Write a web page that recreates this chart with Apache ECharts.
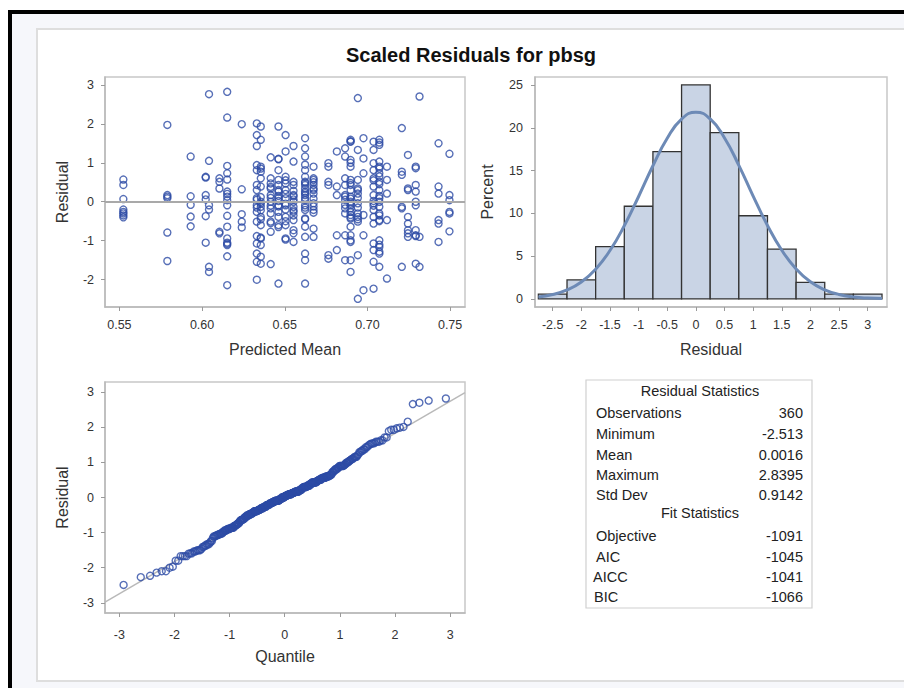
<!DOCTYPE html>
<html>
<head>
<meta charset="utf-8">
<script src="https://cdn.jsdelivr.net/npm/echarts@6/dist/echarts.min.js"></script>
<style>
html,body{margin:0;padding:0;width:904px;height:688px;overflow:hidden;background:#fff;}
.abs{position:absolute;}
</style>
</head>
<body>
<div class="abs" style="left:8px;top:10px;width:896px;height:678px;background:#000"></div>
<div class="abs" style="left:12px;top:13.5px;width:892px;height:675px;background:#f6f7fb"></div>
<div class="abs" style="left:36px;top:28px;width:880px;height:654px;background:#fff;border:2px solid #dedede;box-sizing:border-box"></div>
<div id="chart" class="abs" style="left:0;top:0;width:904px;height:688px"></div>
<script>
// ---------------- DATA ----------------
const chartTitle = 'Scaled Residuals for pbsg';

// Residual vs predicted mean: predicted-mean columns and the residuals seen in each column
const predictedMeans = [0.5524, 0.579, 0.5931, 0.6022, 0.6042, 0.6105, 0.6152, 0.624, 0.6331, 0.6355,
  0.6415, 0.6462, 0.6505, 0.6553, 0.6623, 0.6674, 0.6764, 0.6815, 0.6865, 0.6898,
  0.6942, 0.6976, 0.7037, 0.7072, 0.7118, 0.7208, 0.7245, 0.7292, 0.7315, 0.743, 0.7496];
const residualsByMean = [
  [0.57, 0.43, 0.07, -0.2, -0.26, -0.3, -0.35, -0.4],
  [1.97, 0.17, 0.13, 0.09, -0.79, -1.52],
  [1.16, 0.14, -0.08, -0.38, -0.63],
  [0.64, 0.62, 0.17, 0.06, -0.37, -1.05],
  [2.76, 1.05, -0.09, -0.2, -1.67, -1.8],
  [0.6, 0.51, 0.34, -0.77, -0.81],
  [2.82, 2.16, 0.92, 0.73, 0.57, 0.26, 0.2, 0.13, 0.04, -0.09, -0.36, -0.64, -0.94, -1.05, -1.11, -1.4, -2.14, -1.08],
  [1.99, 0.32, -0.32, -0.51, -0.66],
  [2.01, 1.71, 1.43, 0.94, 0.81, 0.43, 0.3, 0.09, -0.09, -0.26, -0.51, -0.88, -1.07, -1.33, -1.54, -2.0, 0.05, -0.15],
  [1.93, 1.59, 0.9, 0.77, 0.39, 0, -0.13, -0.39, -0.6, -0.94, -1.11, -1.41, -1.59, -0.92, -0.45, 0.6, 0.85, 0.12, -0.05, -0.22],
  [1.14, 0.6, 0.47, 0.34, 0.17, 0, -0.17, -0.3, -0.51, -0.77, -1.6, -0.55, 0.38, 0.1, -0.1],
  [1.93, 1.09, 0.81, 0.56, 0.43, 0.26, 0.09, -0.09, -0.26, -0.39, -0.6, -2.1, -0.65, 0.3, 1.1, 0.02, 0.15, -0.12],
  [1.71, 1.29, 0.64, 0.47, 0.3, 0.09, -0.09, -0.2, -0.39, -0.6, -0.94, -0.97, -0.5, 0.55, 0.2, -0.05],
  [1.43, 1.03, 0.51, 0.43, 0.17, 0, -0.13, -0.26, -0.47, -0.73, -0.81, -1.03, -0.35, 0.28, 0.06, -0.22, 0.14],
  [1.63, 1.37, 1.16, 0.81, 0.64, 0.51, 0.43, 0.34, 0.26, 0.17, 0.04, -0.09, -0.21, -0.43, -0.64, -0.9, -1.33, -1.5, -2.1, -0.45, 0.48, 0.95, 0.1, -0.15, 0.22],
  [0.9, 0.6, 0.56, 0.43, 0.34, 0.3, 0.21, -0.04, -0.21, -0.69, -0.9, -0.28, 0.5, 0.08, -0.12],
  [0.99, 0.9, 0.51, 0.43, -1.37, -1.46],
  [1.29, 0.39, 0.17, -0.86, -1.24],
  [1.37, 1.16, 0.6, 0.43, 0.17, 0.13, -0.17, -0.3, -0.86, -1.5, 0.05, -0.08],
  [1.59, 1.54, 1.07, 0.9, 0.56, 0.43, 0.3, 0.13, 0, -0.09, -0.17, -0.26, -0.34, -0.43, -0.64, -0.86, -1.03, -1.5, -1.8, -0.99, -0.4, 0.48, 1.0, 1.55, 0.08, -0.05],
  [2.66, 1.33, 0.56, 0.34, 0.21, -0.04, -0.3, -0.39, -0.51, -1.37, -2.49, -0.45, 0.3, 0.1, -0.15],
  [1.63, 1.11, 0.73, -0.34, -0.86, -2.27],
  [1.54, 1.33, 0.99, 0.81, 0.6, 0.39, 0.17, -0.04, -0.21, -0.39, -0.56, -1.07, -1.24, -1.54, -2.23, 0.55, 0.02, -0.1],
  [1.59, 1.46, 1.03, 0.9, 0.73, 0.51, 0.3, 0.09, -0.13, -0.3, -0.47, -0.99, -1.16, -1.33, -1.67, -1.28, -1.1, -0.5, -0.35, 0.45, 0.65, 0.85, 1.52, 0.0, 0.15],
  [0.9, 0.56, 0.21, -0.47, -1.97],
  [1.89, 0.77, 0.69, -0.13, -0.17, -1.67],
  [1.2, 0.34, 0.3, -0.39, -0.56, -0.73, -0.81, -0.9],
  [0.9, 0.86, 0.43, 0.26, 0, -0.09, -0.73, -0.86, -1.59, -0.88],
  [2.70, -0.9, -1.67],
  [1.5, 0.39, 0.21, -0.47, -0.56, -1.03],
  [1.23, 0.17, 0.04, -0.26, -0.3, -0.76]
];

// Histogram of residuals (bin centres, percent)
const histBinCenters = [-2.5, -2, -1.5, -1, -0.5, 0, 0.5, 1, 1.5, 2, 2.5, 3];
const histPercent = [0.56, 2.22, 6.11, 10.83, 17.22, 25.0, 19.44, 9.72, 5.83, 1.94, 0.56, 0.56];
const histBinWidth = 0.5;
// Normal density curve
const curveX = [-2.75, -2.5, -2.25, -2, -1.75, -1.5, -1.25, -1, -0.75, -0.5, -0.25, 0, 0.25, 0.5, 0.75, 1, 1.25, 1.5, 1.75, 2, 2.25, 2.5, 2.75, 3, 3.25];
const curveY = [0.24, 0.52, 1.05, 1.99, 3.48, 5.66, 8.55, 11.97, 15.56, 18.77, 21.01, 21.82, 21.03, 18.81, 15.61, 12.02, 8.59, 5.69, 3.5, 2.0, 1.06, 0.52, 0.24, 0.1, 0.04];

// Q-Q reference line end points
const qqLineX = [-3.26, 3.27];
const qqLineY = [-2.98, 2.99];

// Tick labels
const scatterXTicks = [0.55, 0.60, 0.65, 0.70, 0.75];
const residualTicks = [-2, -1, 0, 1, 2, 3];
const histXTicks = [-2.5, -2, -1.5, -1, -0.5, 0, 0.5, 1, 1.5, 2, 2.5, 3];
const histYTicks = [0, 5, 10, 15, 20, 25];
const qqXTicks = [-3, -2, -1, 0, 1, 2, 3];
const qqYTicks = [-3, -2, -1, 0, 1, 2, 3];

// Statistics table
const residualStatLabels = ['Observations', 'Minimum', 'Mean', 'Maximum', 'Std Dev'];
const residualStatValues = ['360', '-2.513', '0.0016', '2.8395', '0.9142'];
const fitStatLabels = ['Objective', 'AIC', 'AICC', 'BIC'];
const fitStatValues = ['-1091', '-1045', '-1041', '-1066'];

// ---------------- BUILD ----------------
function normInv(p) {
  const a = [-3.969683028665376e+01, 2.209460984245205e+02, -2.759285104469687e+02, 1.383577518672690e+02, -3.066479806614716e+01, 2.506628277459239e+00];
  const b = [-5.447609879822406e+01, 1.615858368580409e+02, -1.556989798598866e+02, 6.680131188771972e+01, -1.328068155288572e+01];
  const c = [-7.784894002430293e-03, -3.223964580411365e-01, -2.400758277161838e+00, -2.549732539343734e+00, 4.374664141464968e+00, 2.938163982698783e+00];
  const d = [7.784695709041462e-03, 3.224671290700398e-01, 2.445134137142996e+00, 3.754408661907416e+00];
  const pl = 0.02425, ph = 1 - pl;
  let q, r;
  if (p < pl) {
    q = Math.sqrt(-2 * Math.log(p));
    return (((((c[0]*q+c[1])*q+c[2])*q+c[3])*q+c[4])*q+c[5]) / ((((d[0]*q+d[1])*q+d[2])*q+d[3])*q+1);
  }
  if (p > ph) {
    q = Math.sqrt(-2 * Math.log(1 - p));
    return -(((((c[0]*q+c[1])*q+c[2])*q+c[3])*q+c[4])*q+c[5]) / ((((d[0]*q+d[1])*q+d[2])*q+d[3])*q+1);
  }
  q = p - 0.5; r = q * q;
  return (((((a[0]*r+a[1])*r+a[2])*r+a[3])*r+a[4])*r+a[5])*q / (((((b[0]*r+b[1])*r+b[2])*r+b[3])*r+b[4])*r+1);
}

const scatterData = [];
predictedMeans.forEach((m, i) => residualsByMean[i].forEach(r => scatterData.push([m, r])));
const sortedRes = scatterData.map(d => d[1]).sort((a, b) => a - b);
const n = sortedRes.length;
const qqData = sortedRes.map((r, i) => [normInv((i + 1 - 0.375) / (n + 0.25)), r]);
const histData = histBinCenters.map((c, i) => [c, histPercent[i]]);
const curveData = curveX.map((x, i) => [x, curveY[i]]);
const qqLineData = qqLineX.map((x, i) => [x, qqLineY[i]]);

const FONT = "'Liberation Sans', Arial, sans-serif";
const markerStyle = { color: 'rgba(0,0,0,0)', borderColor: '#2d4ba5', borderWidth: 1.4 };

function valAxis(gridIndex, min, max, ticks, name, nameGap, labelMargin, fmt) {
  return {
    type: 'value', gridIndex, min, max,
    name, nameLocation: 'middle', nameGap,
    nameTextStyle: { fontFamily: FONT, fontSize: 16, color: '#333' },
    axisLine: { show: true, onZero: false, lineStyle: { color: '#b8b8b8', width: 1.5 } },
    axisTick: { show: true, length: 4, customValues: ticks, lineStyle: { color: '#9a9a9a' } },
    axisLabel: { show: true, customValues: ticks, margin: labelMargin, fontFamily: FONT, fontSize: 12.5, color: '#333', formatter: fmt || (v => String(v)) },
    splitLine: { show: false }
  };
}

const gridStyle = { show: true, borderColor: '#c8c8c8', borderWidth: 1.5, backgroundColor: 'rgba(0,0,0,0)' };

// table graphic
const TF = '14.5px ' + FONT;
const tblLeft = 586, tblTop = 380, tblW = 226, tblH = 228;
const tableEls = [
  { type: 'rect', shape: { x: tblLeft, y: tblTop, width: tblW, height: tblH }, style: { fill: '#fff', stroke: '#d0d0d0', lineWidth: 1.2 } },
  { type: 'text', x: 700, y: 391, style: { text: 'Residual Statistics', font: TF, fill: '#222', align: 'center', verticalAlign: 'middle' } },
  { type: 'text', x: 700, y: 513, style: { text: 'Fit Statistics', font: TF, fill: '#222', align: 'center', verticalAlign: 'middle' } }
];
const resRowsY = [413, 434, 454.5, 475, 495];
residualStatLabels.forEach((l, i) => {
  tableEls.push({ type: 'text', x: 596, y: resRowsY[i], style: { text: l, font: TF, fill: '#222', align: 'left', verticalAlign: 'middle' } });
  tableEls.push({ type: 'text', x: 803, y: resRowsY[i], style: { text: residualStatValues[i], font: TF, fill: '#222', align: 'right', verticalAlign: 'middle' } });
});
const fitRowsY = [536, 556.5, 577, 597];
const fitLabelX = [596, 596, 593, 594];
fitStatLabels.forEach((l, i) => {
  tableEls.push({ type: 'text', x: fitLabelX[i], y: fitRowsY[i], style: { text: l, font: TF, fill: '#222', align: 'left', verticalAlign: 'middle' } });
  tableEls.push({ type: 'text', x: 803, y: fitRowsY[i], style: { text: fitStatValues[i], font: TF, fill: '#222', align: 'right', verticalAlign: 'middle' } });
});

const chart = echarts.init(document.getElementById('chart'), null, { renderer: 'svg', width: 904, height: 688 });
chart.setOption({
  backgroundColor: 'transparent',
  animation: false,
  graphic: [
    { type: 'text', x: 471, y: 55, z: 100, style: { text: chartTitle, font: 'bold 20px ' + FONT, fill: '#111', align: 'center', verticalAlign: 'middle' } },
    { type: 'group', z: 100, children: tableEls }
  ],
  grid: [
    Object.assign({ left: 105, top: 77, width: 360, height: 230 }, gridStyle),
    Object.assign({ left: 535, top: 77, width: 352, height: 230 }, gridStyle),
    Object.assign({ left: 105, top: 382, width: 360, height: 231 }, gridStyle)
  ],
  xAxis: [
    valAxis(0, 0.5413, 0.759, scatterXTicks, 'Predicted Mean', 34, 11, v => v.toFixed(2)),
    valAxis(1, -2.809, 3.337, histXTicks, 'Residual', 34, 11),
    valAxis(2, -3.26, 3.27, qqXTicks, 'Quantile', 35, 15)
  ],
  yAxis: [
    valAxis(0, -2.7, 3.2, residualTicks, 'Residual', 35, 11),
    valAxis(1, -0.94, 25.93, histYTicks, 'Percent', 40, 12),
    valAxis(2, -3.29, 3.29, qqYTicks, 'Residual', 35, 11)
  ],
  series: [
    {
      type: 'scatter', xAxisIndex: 0, yAxisIndex: 0, data: scatterData,
      symbol: 'circle', symbolSize: 7, itemStyle: markerStyle, z: 3,
      markLine: {
        silent: true, symbol: 'none', label: { show: false }, animation: false,
        lineStyle: { color: '#a9a9a9', width: 2, type: 'solid' },
        data: [{ yAxis: 0 }]
      }
    },
    {
      type: 'custom', xAxisIndex: 1, yAxisIndex: 1, data: histData,
      encode: { x: 0, y: 1 }, z: 2,
      renderItem: function (params, api) {
        const c = api.value(0), v = api.value(1);
        const p0 = api.coord([c - histBinWidth / 2, v]);
        const p1 = api.coord([c + histBinWidth / 2, 0]);
        return {
          type: 'rect',
          shape: { x: p0[0], y: p0[1], width: p1[0] - p0[0], height: p1[1] - p0[1] },
          style: { fill: '#c9d4e5', stroke: '#333', lineWidth: 1.3 }
        };
      }
    },
    {
      type: 'line', xAxisIndex: 1, yAxisIndex: 1, data: curveData, smooth: true,
      showSymbol: false, z: 4, lineStyle: { color: '#6d8ab6', width: 3 }
    },
    {
      type: 'line', xAxisIndex: 2, yAxisIndex: 2, data: qqLineData,
      showSymbol: false, z: 2, lineStyle: { color: '#b9b9b9', width: 1.5 }
    },
    {
      type: 'scatter', xAxisIndex: 2, yAxisIndex: 2, data: qqData,
      symbol: 'circle', symbolSize: 7, itemStyle: markerStyle, z: 3
    }
  ]
});
</script>
</body>
</html>
